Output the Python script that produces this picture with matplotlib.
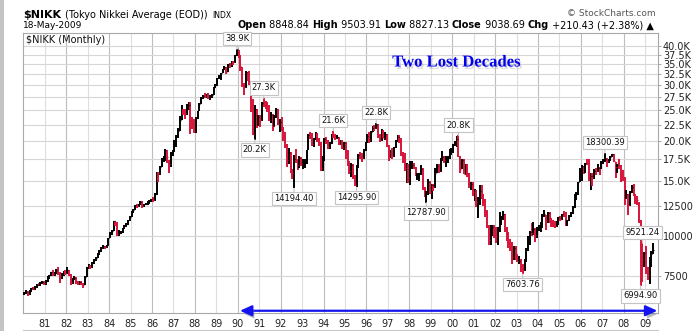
import matplotlib
matplotlib.use("Agg")
import matplotlib.pyplot as plt
import numpy as np
from matplotlib import patheffects as pe
from matplotlib.lines import Line2D
from matplotlib.patches import Rectangle

# ---------------- data (monthly, Jan 1980 .. May 2009) ----------------
start_year = 1980

close_80s = [
    6630, 6690, 6590, 6730, 6850, 6820, 6900, 7050, 7010, 7160, 7180, 7116,
    7250, 7440, 7530, 7700, 7590, 7650, 7860, 7660, 7480, 7620, 7750, 7681,
    7830, 7580, 7180, 7350, 7380, 7160, 7140, 7180, 7100, 7010, 7460, 8017,
    8040, 8010, 8270, 8440, 8530, 8800, 8970, 9200, 9310, 9240, 9350, 9894,
    10200, 10420, 11170, 11010, 10190, 10280, 10320, 10620, 10840, 10980, 11260, 11543,
    11990, 12100, 12580, 12460, 12630, 12880, 12480, 12620, 12700, 12860, 12920, 13113,
    13050, 13640, 15860, 15820, 16600, 17650, 17800, 18790, 17850, 16910, 18300, 18701,
    20020, 20770, 21570, 23270, 24900, 24880, 24490, 25900, 26010, 23330, 22690, 21564,
    23720, 24900, 26260, 27440, 27800, 27770, 28000, 27370, 27920, 27990, 29580, 30159,
    31580, 31990, 32840, 33710, 34270, 32950, 34950, 34900, 35640, 35550, 37270, 38916,
]
high_80s = [
    6700, 6760, 6720, 6760, 6880, 6900, 6950, 7090, 7140, 7190, 7250, 7230,
    7300, 7480, 7560, 7730, 7810, 7700, 7900, 8020, 7700, 7680, 7800, 7820,
    8010, 7860, 7610, 7400, 7520, 7420, 7230, 7250, 7240, 7150, 7480, 8020,
    8200, 8100, 8290, 8480, 8640, 8850, 9040, 9230, 9400, 9350, 9420, 9900,
    10290, 10500, 11190, 11190, 11070, 10440, 10430, 10650, 10880, 11050, 11300, 11580,
    12000, 12180, 12600, 12650, 12700, 12900, 12900, 12650, 12760, 12900, 13000, 13130,
    13300, 13700, 15990, 16000, 16700, 17700, 17900, 18936, 18800, 17450, 18500, 18800,
    20100, 20950, 22000, 24000, 25930, 25300, 25190, 26150, 26650, 26650, 23800, 23400,
    23800, 24950, 26400, 27600, 28000, 28400, 28100, 28400, 28000, 28100, 29650, 30200,
    31650, 32250, 32900, 33780, 34400, 34270, 34950, 35200, 35800, 35800, 37300, 38957,
]
low_80s = [
    6520, 6600, 6480, 6550, 6700, 6760, 6790, 6880, 6950, 6980, 7080, 7050,
    7050, 7200, 7350, 7480, 7500, 7490, 7620, 7580, 7120, 7320, 7520, 7580,
    7600, 7480, 7050, 7100, 7280, 7100, 7030, 7050, 7010, 6850, 7000, 7420,
    7900, 7880, 7950, 8210, 8360, 8520, 8760, 8930, 9100, 9100, 9170, 9340,
    9890, 10120, 10380, 10820, 10050, 10060, 10150, 10250, 10560, 10740, 10900, 11220,
    11540, 11860, 12100, 12290, 12400, 12600, 12300, 12380, 12550, 12600, 12700, 12830,
    12880, 12960, 13500, 14900, 15600, 16550, 17200, 17300, 17000, 15820, 16600, 17900,
    18500, 19200, 20500, 21500, 23300, 24100, 23500, 24100, 25000, 21036, 21900, 21200,
    21217, 23400, 24800, 26200, 27200, 27300, 27400, 27200, 26900, 27400, 27900, 29500,
    29900, 31300, 31100, 32700, 33500, 32600, 32950, 34000, 34300, 34700, 35400, 37100,
]

close_90s = [
    37189, 34591, 29980, 29584, 33131, 31940, 31035, 25978, 20984, 25194, 22455, 23849,
    23293, 26409, 26292, 26111, 25790, 23291, 24121, 22336, 23916, 25222, 22687, 22984,
    22023, 21339, 19346, 17391, 18348, 15952, 15910, 17555, 17399, 16767, 17684, 16925,
    17024, 17098, 18591, 20919, 20552, 19590, 20380, 21027, 20106, 19704, 16408, 17417,
    20229, 19997, 19112, 19725, 20974, 20644, 20449, 20629, 19564, 19990, 19076, 19723,
    18650, 17054, 16140, 16807, 15437, 14517, 16678, 18117, 17913, 17655, 18744, 19868,
    20813, 20125, 21407, 22041, 21956, 22531, 20693, 20167, 21556, 20466, 21020, 19361,
    18330, 18557, 18003, 19151, 20069, 20605, 20331, 18229, 17888, 16459, 16636, 15259,
    16628, 16832, 16527, 15641, 15671, 15830, 16379, 14108, 13406, 13564, 14884, 13842,
    14499, 14368, 15837, 16702, 16112, 17530, 17862, 17437, 17605, 17942, 18558, 18934,
]
high_90s = [
    38900, 37400, 34300, 30500, 33300, 33100, 33200, 31000, 27100, 25900, 25300, 24200,
    24200, 26500, 27270, 26800, 26500, 25900, 24700, 24300, 24100, 25500, 25300, 23400,
    23800, 22200, 21400, 19600, 18950, 18500, 16300, 18100, 18900, 17500, 17900, 17800,
    17500, 17500, 18700, 21000, 21300, 21200, 20500, 21300, 21200, 20400, 19800, 17900,
    20500, 20600, 20200, 19900, 21000, 21552, 21000, 20900, 20600, 20200, 20200, 19800,
    19800, 18800, 17300, 17100, 16900, 15600, 16800, 18200, 18500, 18300, 18900, 19900,
    21000, 21300, 21500, 22300, 22500, 22750, 22700, 21100, 21800, 21700, 21300, 21000,
    19500, 18800, 19000, 19200, 20200, 20900, 20900, 20400, 18500, 18300, 17100, 16900,
    17300, 17300, 17100, 16600, 15900, 15900, 16800, 16400, 14300, 13900, 15200, 15000,
    14600, 14600, 16400, 16900, 16900, 17700, 18600, 18000, 17900, 18000, 18900, 19000,
]
low_90s = [
    36700, 33300, 29600, 28000, 29500, 31000, 30100, 24700, 20900, 20222, 22000, 22300,
    22100, 23100, 25600, 25300, 24700, 23100, 22800, 21457, 22100, 23700, 22500, 21400,
    21500, 20000, 19000, 16600, 16900, 15800, 15200, 14194, 17000, 16250, 16500, 16700,
    16300, 16500, 16900, 18700, 20300, 19300, 19200, 20100, 19900, 19300, 16078, 16100,
    17300, 19600, 18900, 18900, 19600, 20400, 20100, 20300, 19500, 19500, 18900, 18800,
    17600, 16700, 15700, 15400, 15200, 14400, 14296, 16400, 17600, 17200, 17600, 18600,
    19700, 19700, 19800, 21300, 21500, 21800, 20500, 19800, 20000, 20400, 20200, 19200,
    17300, 17700, 17600, 17800, 19000, 19900, 19700, 17900, 17000, 16100, 14775, 14700,
    14500, 16300, 16300, 15500, 15100, 15000, 15600, 14000, 13300, 12788, 13500, 13600,
    13100, 13900, 14200, 15800, 15800, 16000, 17300, 17100, 16600, 17100, 17600, 18100,
]

close_00s = [
    19540, 19960, 20337, 17974, 16332, 17411, 15727, 16861, 15747, 14539, 14649, 13786,
    13844, 12884, 12999, 13934, 13262, 12969, 11861, 10714, 9775, 10367, 10697, 10543,
    9998, 10588, 11025, 11493, 11764, 10622, 9877, 9620, 9383, 8640, 9216, 8579,
    8340, 8363, 7973, 7831, 8425, 9083, 9563, 10344, 10219, 10560, 10101, 10677,
    10784, 11042, 11715, 11762, 11236, 11858, 11326, 11082, 10824, 10771, 11123, 11489,
    11388, 11740, 11669, 11009, 11277, 11584, 11900, 12414, 13574, 13607, 14872, 16111,
    16650, 16206, 17060, 16906, 15467, 15505, 15457, 16141, 16128, 16399, 16274, 17226,
    17383, 17604, 17288, 17400, 17876, 18138, 17249, 16569, 16786, 16737, 15681, 15308,
    13592, 13603, 12526, 13850, 14339, 13481, 13377, 13073, 11260, 8577, 8512, 8860,
    7994, 7568, 8110, 8828, 9039,
]
high_00s = [
    19600, 20000, 20700, 20833, 18000, 17500, 17600, 16900, 16900, 15800, 14900, 14900,
    14100, 14000, 13300, 14500, 14500, 13600, 13100, 12100, 10900, 10900, 10900, 10900,
    10700, 10700, 11900, 11600, 12000, 11800, 10700, 10300, 9800, 9600, 9300, 9300,
    8800, 8700, 8500, 8200, 8500, 9200, 10000, 10400, 11000, 11100, 10600, 10700,
    10900, 11100, 11800, 12100, 11700, 11900, 11900, 11400, 11300, 11200, 11200, 11500,
    11600, 11800, 12000, 11900, 11300, 11700, 11900, 12500, 13600, 13800, 14900, 16400,
    16800, 16700, 17100, 17600, 17500, 15800, 15800, 16300, 16400, 16900, 16600, 17300,
    17600, 18300, 17700, 17600, 17900, 18200, 18250, 17200, 16900, 17500, 16800, 16200,
    15400, 14000, 13600, 13900, 14500, 14600, 13600, 13400, 12800, 11300, 9521, 8900,
    9300, 8000, 8600, 9000, 9504,
]
low_00s = [
    18300, 19300, 19200, 17800, 15800, 16300, 15700, 15600, 15400, 14200, 14000, 13400,
    12900, 12400, 11433, 12600, 13100, 12500, 11500, 10600, 9383, 9400, 10000, 9900,
    9500, 9420, 10300, 10900, 11300, 10300, 9700, 9200, 9000, 8197, 8400, 8400,
    8300, 8200, 7700, 7604, 7800, 8300, 9000, 9400, 10000, 10100, 9600, 9900,
    10400, 10300, 10600, 11500, 10500, 11000, 11000, 10700, 10700, 10600, 10700, 10900,
    11200, 11300, 11500, 10800, 10800, 11200, 11500, 11800, 12300, 13000, 13500, 14800,
    15000, 15700, 15800, 16800, 15000, 14000, 14400, 15200, 15600, 16000, 15600, 16300,
    16900, 17200, 16600, 17000, 17300, 17800, 17200, 15300, 15800, 16300, 14800, 15000,
    12570, 13100, 11700, 12500, 13700, 13400, 12700, 12600, 11000, 6995, 7200, 8000,
    7600, 7300, 7055, 8000, 8827,
]

y_ticks = [7500, 10000, 12500, 15000, 17500, 20000, 22500, 25000,
           27500, 30000, 32500, 35000, 37500, 40000]
y_tick_labels = ["7500", "10000", "12500", "15.0K", "17.5K", "20.0K", "22.5K",
                 "25.0K", "27.5K", "30.0K", "32.5K", "35.0K", "37.5K", "40.0K"]
x_tick_years = list(range(1981, 2010))
x_tick_labels = ["%02d" % (y % 100) for y in x_tick_years]

# annotations: (text, year, month, which)
labels = [
    ("38.9K", 1989, 12, "high"),
    ("27.3K", 1991, 3, "high"),
    ("20.2K", 1990, 10, "low"),
    ("14194.40", 1992, 8, "low"),
    ("21.6K", 1994, 6, "high"),
    ("14295.90", 1995, 7, "low"),
    ("22.8K", 1996, 6, "high"),
    ("12787.90", 1998, 10, "low"),
    ("20.8K", 2000, 4, "high"),
    ("7603.76", 2003, 4, "low"),
    ("18300.39", 2007, 2, "high"),
    ("9521.24", 2008, 11, "high"),
    ("6994.90", 2008, 10, "low"),
]

# ---------------- assemble ----------------
close = np.array(close_80s + close_90s + close_00s, dtype=float)
high = np.array(high_80s + high_90s + high_00s, dtype=float)
low = np.array(low_80s + low_90s + low_00s, dtype=float)
n = len(close)
x = start_year + (np.arange(n) + 0.5) / 12.0

W, H = 698, 331
fig = plt.figure(figsize=(W / 100, H / 100), dpi=100)
fig.patch.set_facecolor("white")

# left grey border strip and bottom panel line
fig.patches.append(Rectangle((0, 0), 3.5 / W, 1, transform=fig.transFigure,
                             facecolor="#c4c4c4", edgecolor="none"))
fig.lines.append(Line2D([23 / W, 658 / W], [1 - 329.5 / H] * 2, transform=fig.transFigure,
                        color="#c8c8c8", lw=0.8))

ax = fig.add_axes([23 / W, (H - 313) / H, 635 / W, 280 / H])
ax.set_yscale("log")
ax.set_ylim(5731, 43867)
ax.set_xlim(1979.98, 2009.6)

# grid
for yr in x_tick_years:
    ax.axvline(yr, color="#bdbdbd" if yr % 2 == 0 else "#dedede", lw=0.8, zorder=0)
for yv in y_ticks:
    ax.axhline(yv, color="#d6d6d6", lw=0.8, zorder=0)

# bars
red = "#d8143a"
prev = np.concatenate([[close[0]], close[:-1]])
colors = np.where(close < prev, red, "black")
ax.vlines(x, low, high, colors=colors, lw=1.4, zorder=3)
ax.hlines(close, x, x + 0.04, colors=colors, lw=0.9, zorder=3)

# axes styling
ax.set_yticks(y_ticks)
ax.set_yticklabels(y_tick_labels)
ax.yaxis.set_minor_locator(matplotlib.ticker.NullLocator())
ax.yaxis.tick_right()
ax.tick_params(axis="y", which="major", length=2, width=0.6, color="#999999",
               pad=1.5, labelsize=7, labelcolor="#222222")
ax.set_xticks(x_tick_years)
ax.set_xticklabels(x_tick_labels)
ax.tick_params(axis="x", length=0, pad=4, labelsize=7, labelcolor="#222222")
for sp in ax.spines.values():
    sp.set_color("#a8a8a8")
    sp.set_linewidth(0.8)

# inside label
ax.text(3 / 635, 1 - 7 / 280, r"\$NIKK (Monthly)", transform=ax.transAxes,
        fontsize=7, va="center", ha="left", color="#111111")

# value labels
for txt, yr, mo, which in labels:
    i = (yr - start_year) * 12 + (mo - 1)
    yv = high[i] if which == "high" else low[i]
    off = 7.5 if which == "high" else -7.5
    ax.annotate(txt, xy=(x[i], yv), xytext=(0, off), textcoords="offset points",
                ha="center", va="center", fontsize=6, color="#111111", zorder=5,
                bbox=dict(boxstyle="square,pad=0.25", fc="white", ec="#c4c4c4", lw=0.8),
                arrowprops=dict(arrowstyle="-", color="#c4c4c4", lw=0.8,
                                shrinkA=0, shrinkB=0))

# "Two Lost Decades"
ax.text((456 - 23) / 635, (313 - 62.5) / 280, "Two Lost Decades", transform=ax.transAxes,
        ha="center", va="center", fontsize=12, fontweight="bold",
        family="Liberation Serif", color="#0000ee", zorder=6,
        path_effects=[pe.SimplePatchShadow(offset=(1.2, -1.8), shadow_rgbFace="#9a9a9a", alpha=0.35),
                      pe.Normal()])

# lost-decades arrow along the bottom
arrow_start, arrow_end = 1990.1, 2009.57
arr = ax.annotate("", xy=(arrow_end, 0.008), xytext=(arrow_start, 0.008),
                  xycoords=("data", "axes fraction"), textcoords=("data", "axes fraction"),
                  arrowprops=dict(arrowstyle="<|-|>,head_length=0.7,head_width=0.32",
                                  color="#1414f0", lw=1.6, mutation_scale=10,
                                  shrinkA=0, shrinkB=0), zorder=6)
arr.arrow_patch.set_path_effects([pe.SimplePatchShadow(offset=(1.5, -2.5),
                                                        shadow_rgbFace="#777777", alpha=0.5),
                                  pe.Normal()])

# header line 1 (baseline-aligned pieces, placed left to right)
fig.canvas.draw()
renderer = fig.canvas.get_renderer()
base1 = 1 - 17.5 / H
head1 = [(r"\$NIKK", dict(fontsize=8, fontweight="bold"), 0),
         ("(Tokyo Nikkei Average (EOD))", dict(fontsize=7), 4),
         ("INDX", dict(fontsize=5.5), 5)]
cur_x = 23.0
for txt, kw, gap in head1:
    cur_x += gap
    t = fig.text(cur_x / W, base1, txt, va="baseline", ha="left", **kw)
    bb = t.get_window_extent(renderer)
    cur_x = bb.x1

fig.text(656 / W, 1 - 13.5 / H, "© StockCharts.com", fontsize=6.5, va="center", ha="right",
         color="#555555")
fig.text(23 / W, 1 - 25 / H, "18-May-2009", fontsize=6.5, va="center", ha="left")

pieces = [("Open", True), (" 8848.84 ", False), ("High", True), (" 9503.91 ", False),
          ("Low", True), (" 8827.13 ", False), ("Close", True), (" 9038.69 ", False),
          ("Chg", True), (" +210.43 (+2.38%) ▲", False)]
prev_t = fig.text(237 / W, 1 - 25 / H, pieces[0][0], fontsize=7, fontweight="bold",
                  va="center", ha="left")
for txt, bold in pieces[1:]:
    prev_t = ax.annotate(txt, xy=(1, 0), xycoords=prev_t, xytext=(0, 0),
                         textcoords="offset points", ha="left", va="bottom", fontsize=7,
                         fontweight="bold" if bold else "normal", annotation_clip=False)

fig.savefig("out.png", dpi=100, facecolor="white")
